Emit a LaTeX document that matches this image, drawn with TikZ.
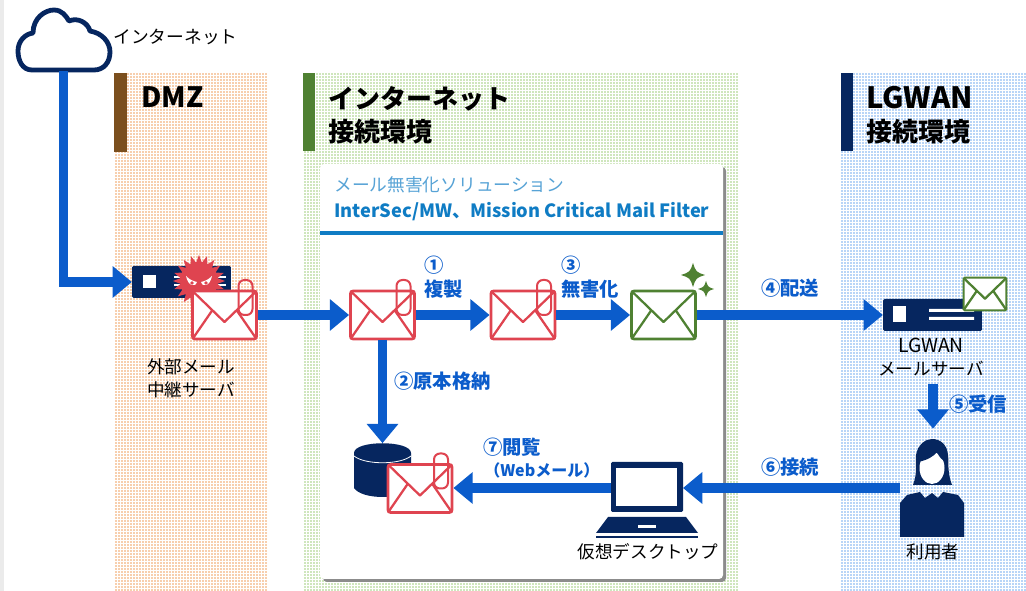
\documentclass[tikz,border=0pt]{standalone}
\usepackage{fontspec}
\setmainfont{Noto Sans CJK JP}
\usetikzlibrary{arrows.meta,shapes.geometric}
\definecolor{navy}{HTML}{06265F}
\definecolor{flowblue}{HTML}{0B5CCB}
\definecolor{mailred}{HTML}{DF4450}
\definecolor{mailgreen}{HTML}{4F8132}
\definecolor{dmzbar}{HTML}{7B4F1E}
\definecolor{dmzfill}{HTML}{F7CFAE}
\definecolor{netfill}{HTML}{CFE6BD}
\definecolor{lgfill}{HTML}{B9D5F7}
\definecolor{rulefill}{HTML}{0F7CC4}
\tikzset{every picture/.style={x=0.75pt,y=-0.75pt}}
\tikzset{
  flowline/.style={draw=flowblue,line width=6.8pt,-{Triangle[length=14.5pt,width=23pt]}},
  flowlabel/.style={text=flowblue,font=\fontsize{14.5}{18}\selectfont\bfseries,align=left,inner sep=0pt},
  headlabel/.style={anchor=west,text=black,font=\fontsize{19.5}{24.5}\selectfont\bfseries,align=left,inner sep=0pt},
  iconlabel/.style={text=black,font=\fontsize{13.2}{17}\selectfont,align=center,inner sep=0pt},
  mailbox/.style={draw=#1,fill=white,line width=2.1pt,rounded corners=2pt,minimum width=48pt,minimum height=36pt,inner sep=0pt},
  smallmail/.style={draw=#1,fill=white,line width=1.6pt,rounded corners=1pt,minimum width=32pt,minimum height=24.5pt,inner sep=0pt},
  serverbox/.style={fill=navy,rounded corners=1pt,minimum width=74pt,minimum height=24pt,inner sep=0pt},
  iconbox/.style={inner sep=0pt,outer sep=0pt}
}

\begin{document}
\begin{tikzpicture}
    \useasboundingbox (0,0) rectangle (1026,591);
    \fill[white] (0,0) rectangle (1026,591);
    \fill[black!8] (0,0) rectangle (4,591);

    % Draw panels
    \fill[dmzfill] (114,73) rectangle (268,591);
    \fill[netfill] (303,73) rectangle (738,591);
    \fill[lgfill] (841,73) rectangle (1026,591);

    % Dotted texture
    \foreach \xa/\xb in {114/268,303/738,841/1026} {
        \draw[white, line width=0.55pt] (\xa,73) grid[step=2.25pt] (\xb,591);
    }

    % Header bars
    \fill[dmzbar] (114,73) rectangle (127,152);
    \fill[mailgreen] (303,73) rectangle (315,151);
    \fill[navy] (841,73) rectangle (853,151);

    % Panel titles
    \node[headlabel, font=\fontsize{21}{24.5}\selectfont\bfseries] (dmztitle) at (141,97) {DMZ};
    \node[headlabel] (nettitle) at (328,115) {インターネット\\接続環境};
    \node[headlabel] (lgtitle) at (866,115) {{\fontsize{22}{24.5}\selectfont LGWAN}\\接続環境};

    % Solution box
    \fill[black!45, rounded corners=3pt] (323,167) rectangle (726,582);
    \fill[white, rounded corners=3pt] (320,164) rectangle (723,579);
    \fill[rulefill] (320,231) rectangle (723,235);
    \node[anchor=west, inner sep=0pt, text=rulefill!70!white, font=\fontsize{13.3}{17}\selectfont] (soltitle) at (334,185) {メール無害化ソリューション};
    \node[anchor=west, inner sep=0pt, text=rulefill, font=\fontsize{13.7}{17}\selectfont\bfseries] (solname) at (334,212) {InterSec/MW、Mission Critical Mail Filter};

    % Cloud
    \node[iconbox, minimum width=69.75pt, minimum height=46.5pt] (cloud) at (63.5,40) {};
    \draw[navy, fill=white, line width=3.6pt, line join=round]
        (32,70) .. controls (22,70) and (18,60) .. (18,51)
        .. controls (18,41) and (25,34) .. (33,33)
        .. controls (33,18) and (45,10) .. (54,10)
        .. controls (62,10) and (66,16) .. (69,21)
        .. controls (78,17) and (88,23) .. (90,31)
        .. controls (102,33) and (110,42) .. (110,52)
        .. controls (110,62) and (104,70) .. (94,70) -- cycle;
    \node[inner sep=0pt, text=black, font=\fontsize{13.3}{17}\selectfont] (cloudname) at (175.5,37) {インターネット};

    % DMZ server with virus
    \node[serverbox] (dmzsrv) at (181.5,282) {};
    \fill[white] (143,275) rectangle (156,288);
    \draw[white, line width=0.9pt] (174,277) -- (226,277) (174,285) -- (226,285);
    \node[star, star points=20, star point ratio=1.4, fill=mailred, inner sep=0pt, minimum size=39pt] (virus) at (199,281) {};
    \fill[white] (186,276) .. controls (190,280) and (193,281) .. (197,282) .. controls (195,288) and (188,286) .. (186,276) -- cycle;
    \fill[white] (212,276) .. controls (208,280) and (205,281) .. (201,282) .. controls (203,288) and (210,286) .. (212,276) -- cycle;
    \fill[mailred] (192,283) circle (1.8) (206,283) circle (1.8);

    % Mail icons
    \node[mailbox=mailred] (mailin) at (224.5,315) {};
    \node[mailbox=mailred] (mailorig) at (382.5,315) {};
    \node[mailbox=mailred] (mailcopy) at (523,315) {};
    \node[mailbox=mailgreen] (mailsafe) at (663.5,315) {};

    % LGWAN server
    \node[serverbox] (lgsrv) at (932.5,315) {};
    \fill[white] (893,306) rectangle (906,322);
    \fill[white] (929,309) rectangle (974,312) (929,317) rectangle (974,320);
    \node[smallmail=mailgreen] (maillg) at (985,294) {};

    % Storage
    \node[iconbox, minimum width=43pt, minimum height=41pt] (db) at (382.5,470.5) {};
    \fill[navy] (354,453) .. controls (354,440) and (411,440) .. (411,453)
        -- (411,488) .. controls (403,500) and (362,500) .. (354,488) -- cycle;
    \draw[white, line width=0.6pt] (354,456) .. controls (365,465) and (400,465) .. (411,456);
    \node[mailbox=mailred] (mailstore) at (420,488.5) {};

    % Envelope flaps
    \foreach \m/\c/\s in {mailin/mailred/1,mailorig/mailred/1,mailcopy/mailred/1,mailstore/mailred/1,mailsafe/mailgreen/1,maillg/mailgreen/0.67} {
        \draw[\c, line width=1.7pt, line join=round, shift={(\m.center)}, scale=\s]
            (-32,-24) -- (0,7) -- (32,-24) (-32,24) -- (-12,-5) (32,24) -- (12,-5);
    }

    % Paper clips
    \foreach \m in {mailin,mailorig,mailcopy,mailstore} {
        \draw[mailred, line width=1.5pt, rounded corners=4.5pt, shift={(\m.center)}]
            (14,-35) rectangle (28,0);
    }

    % Sparkles
    \foreach \sx/\sy/\sr in {693/275/12,706/289/8} {
        \fill[mailgreen] (\sx,\sy-\sr) .. controls (\sx+0.25*\sr,\sy-0.25*\sr) .. (\sx+\sr,\sy)
            .. controls (\sx+0.25*\sr,\sy+0.25*\sr) .. (\sx,\sy+\sr)
            .. controls (\sx-0.25*\sr,\sy+0.25*\sr) .. (\sx-\sr,\sy)
            .. controls (\sx-0.25*\sr,\sy-0.25*\sr) .. (\sx,\sy-\sr) -- cycle;
    }

    % Laptop
    \node[iconbox, fill=navy, rounded corners=1pt, minimum width=54pt, minimum height=37.5pt] (laptop) at (647,487) {};
    \fill[white] (616,468) rectangle (677,506);
    \fill[navy] (608,517) -- (686,517) -- (698,533) -- (596,533) -- cycle;
    \fill[white] (638,525) rectangle (656,528);
    \fill[navy] (596,536) rectangle (698,538);

    % User
    \node[iconbox, minimum width=48pt, minimum height=73pt] (user) at (932,488) {};
    \fill[navy] (913,485) .. controls (918,472) and (915,462) .. (916,455)
        .. controls (918,444) and (926,439) .. (932,439)
        .. controls (940,439) and (947,444) .. (948,455)
        .. controls (949,462) and (947,472) .. (952,485) -- cycle;
    \fill[white] (932,468) ellipse (12.5 and 16);
    \fill[navy] (918,462) .. controls (928,460) and (934,456) .. (937,452)
        .. controls (939,457) and (942,460) .. (946,462) -- (946,448) -- (918,448) -- cycle;
    \fill[navy] (900,537) -- (900,503) -- (907,495) -- (920,492) -- (925,498) -- (932,493)
        -- (938,498) -- (943,492) -- (958,495) -- (964,503) -- (964,537) -- cycle;

    % Icon names
    \node[iconlabel] (dmzname) at (191,378) {外部メール\\中継サーバ};
    \node[iconlabel] (lgname) at (931,357) {{\fontsize{14.5}{17}\selectfont LGWAN}\\メールサーバ};
    \node[iconlabel] (lapname) at (648,552) {仮想デスクトップ};
    \node[iconlabel] (username) at (933,552) {利用者};

    % Draw flows
    \draw[flowline] (cloud.south) |- (dmzsrv.west);
    \draw[flowline] (mailin.east) -- (mailorig.west);
    \draw[flowline] (mailorig.east) -- (mailcopy.west);
    \draw[flowline] (mailcopy.east) -- (mailsafe.west);
    \draw[flowline] (mailsafe.east) -- (lgsrv.west);
    \draw[flowline] (mailorig.south) -- (mailorig.south |- db.north);
    \draw[flowline, shorten <=6pt, shorten >=8pt] (lgname.south -| 933,0) -- (user.north -| 933,0);
    \draw[flowline] (user.west) -- (laptop.east |- user.west);
    \draw[flowline] (laptop.west |- user.west) -- (mailstore.east |- user.west);

    % Flow labels
    \node[flowlabel, anchor=west] (copylabel) at (424,277) {①\\複製};
    \node[flowlabel, anchor=west] (safelabel) at (561,277) {③\\無害化};
    \node[flowlabel, anchor=west] (sendlabel) at (761,288) {④配送};
    \node[flowlabel, anchor=west] (origlabel) at (394,381) {②原本格納};
    \node[flowlabel, anchor=west] (recvlabel) at (949,404) {⑤受信};
    \node[flowlabel, anchor=west] (connlabel) at (761,467) {⑥接続};
    \node[flowlabel, anchor=west] (viewlabel) at (483,447) {⑦閲覧};
    \node[flowlabel, anchor=west, font=\fontsize{12}{16}\selectfont\bfseries] (weblabel) at (484,470) {（Webメール）};
\end{tikzpicture}
\end{document}
